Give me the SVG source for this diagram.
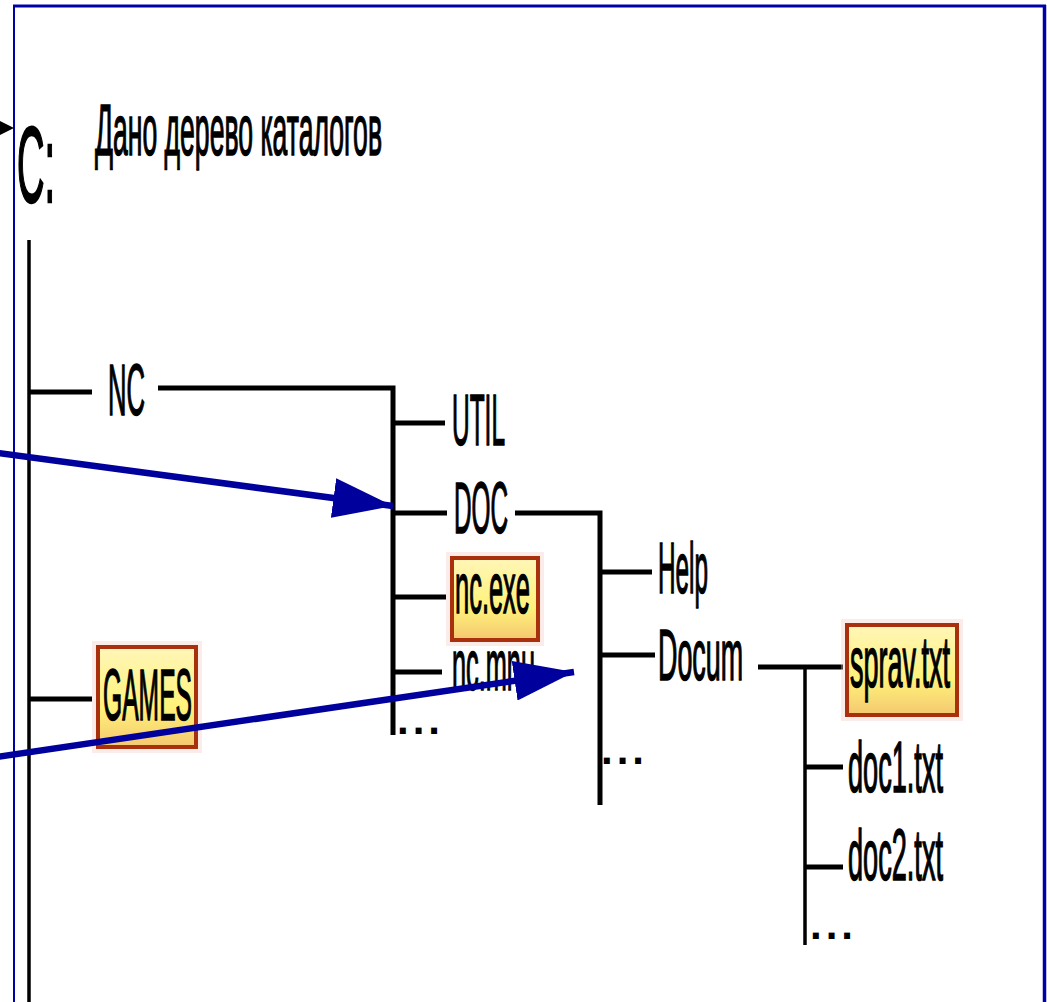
<svg xmlns="http://www.w3.org/2000/svg" width="1047" height="1002" viewBox="0 0 1047 1002">
<style>
.t{font-family:"Liberation Sans",Arial,sans-serif;font-size:72px;fill:#000;stroke:#000;stroke-width:1.6px}
.tree{stroke:#000;stroke-width:5;fill:none}
.vl{stroke:#000;stroke-width:3.5;fill:none}
.box{fill:url(#yg);stroke:#a8300c;stroke-width:4}
.glow{fill:none;stroke:#f6c8c0;stroke-width:6;opacity:0.35}
.blue{stroke:#00009c;stroke-width:6.5;fill:none}
.dots{font-family:"Liberation Sans",Arial,sans-serif;font-weight:bold;font-size:42px;letter-spacing:4px;fill:#000}
</style>
<defs>
<linearGradient id="yg" x1="0" y1="0" x2="0" y2="1">
<stop offset="0" stop-color="#fff6b8"/>
<stop offset="0.6" stop-color="#fff27a"/>
<stop offset="1" stop-color="#f4c870"/>
</linearGradient>
<marker id="bh" markerUnits="userSpaceOnUse" markerWidth="60" markerHeight="40" viewBox="0 0 54 36" refX="54" refY="18" orient="auto">
<path d="M0,0 L54,18 L0,36 Z" fill="#00009c"/>
</marker>
</defs>
<rect width="1047" height="1002" fill="#fff"/>
<g id="frame">
<line x1="13" y1="6" x2="1046" y2="6" stroke="#0000a8" stroke-width="3"/>
<line x1="14" y1="5" x2="14" y2="1002" stroke="#0000a8" stroke-width="2"/>
<line x1="1044.5" y1="5" x2="1044.5" y2="1002" stroke="#0000a8" stroke-width="3.5"/>
</g>
<g id="title"><text class="t" x="95" y="155" textLength="287" lengthAdjust="spacingAndGlyphs">Дано дерево каталогов</text></g>
<g id="node-c"><text class="t" x="17" y="202" style="font-size:107px;stroke-width:2.5px" textLength="38" lengthAdjust="spacingAndGlyphs">C:</text></g>
<g id="connectors">
<line class="vl" x1="29" y1="240" x2="29" y2="1002"/>
<line class="tree" x1="29" y1="392" x2="92" y2="392"/>
<polyline class="tree" points="158,388 393,388 393,735"/>
<line class="tree" x1="29" y1="699" x2="92" y2="699"/>
<line class="tree" x1="393" y1="423" x2="445" y2="423"/>
<line class="tree" x1="393" y1="513" x2="447" y2="513"/>
<line class="tree" x1="393" y1="597" x2="446" y2="597"/>
<line class="tree" x1="393" y1="672" x2="442" y2="672"/>
<polyline class="tree" points="515,513 600,513 600,805"/>
<line class="tree" x1="600" y1="572" x2="652" y2="572"/>
<line class="tree" x1="600" y1="655" x2="655" y2="655"/>
<polyline class="tree" points="758,667 843,667"/>
<line class="vl" x1="805" y1="667" x2="805" y2="945"/>
<line class="tree" x1="805" y1="767" x2="843" y2="767"/>
<line class="tree" x1="805" y1="867" x2="843" y2="867"/>
<polygon points="0,121 14,128 0,135" fill="#000"/>
</g>
<g id="node-nc"><text class="t" x="108" y="415" textLength="37" lengthAdjust="spacingAndGlyphs">NC</text></g>
<g id="node-games">
<rect class="glow" x="95" y="644" width="104" height="106"/>
<rect class="box" x="98" y="647" width="98" height="100"/>
<text class="t" x="103" y="720" textLength="89" lengthAdjust="spacingAndGlyphs">GAMES</text>
</g>
<g id="node-util"><text class="t" x="452" y="445" textLength="53" lengthAdjust="spacingAndGlyphs">UTIL</text></g>
<g id="node-doc"><text class="t" x="454" y="533" textLength="54" lengthAdjust="spacingAndGlyphs">DOC</text></g>
<g id="node-ncexe">
<rect class="glow" x="449" y="555" width="92" height="88"/>
<rect class="box" x="452" y="558" width="86" height="82"/>
<text class="t" x="455" y="613" textLength="75" lengthAdjust="spacingAndGlyphs">nc.exe</text>
</g>
<g id="node-ncmnu"><text class="t" x="452" y="690" textLength="83" lengthAdjust="spacingAndGlyphs">nc.mnu</text></g>
<g id="dots1"><text class="dots" x="397" y="734">...</text></g>
<g id="node-help"><text class="t" x="658" y="593" textLength="50" lengthAdjust="spacingAndGlyphs">Help</text></g>
<g id="node-docum"><text class="t" x="658" y="680" textLength="85" lengthAdjust="spacingAndGlyphs">Docum</text></g>
<g id="dots2"><text class="dots" x="601" y="764">...</text></g>
<g id="node-sprav">
<rect class="glow" x="844" y="622" width="116" height="96"/>
<rect class="box" x="847" y="625" width="110" height="90"/>
<text class="t" x="850" y="687" textLength="100" lengthAdjust="spacingAndGlyphs">sprav.txt</text>
</g>
<g id="node-doc1"><text class="t" x="848" y="792" textLength="95" lengthAdjust="spacingAndGlyphs">doc1.txt</text></g>
<g id="node-doc2"><text class="t" x="848" y="880" textLength="95" lengthAdjust="spacingAndGlyphs">doc2.txt</text></g>
<g id="dots3"><text class="dots" x="810" y="939">...</text></g>
<g id="arrows">
<line class="blue" x1="-10" y1="452" x2="393" y2="506" marker-end="url(#bh)"/>
<line class="blue" x1="-10" y1="758" x2="574" y2="672" marker-end="url(#bh)"/>
</g>
</svg>
